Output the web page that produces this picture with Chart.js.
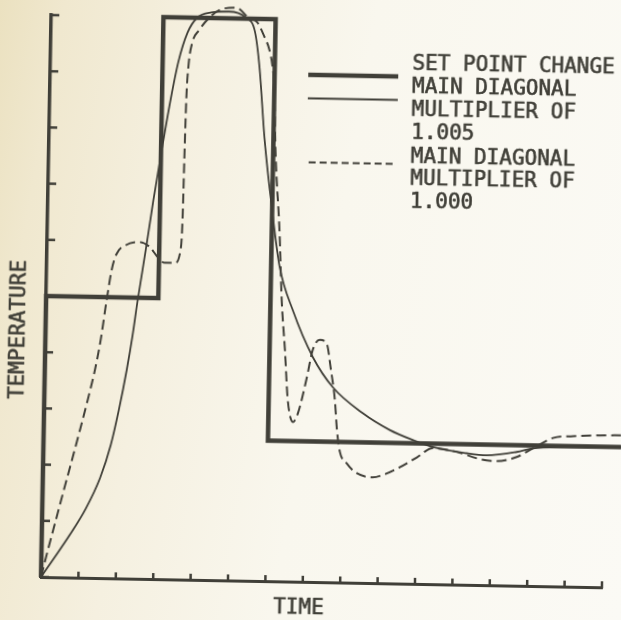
<!DOCTYPE html>
<html>
<head>
<meta charset="utf-8">
<script src="https://cdn.jsdelivr.net/npm/chart.js@4.4.1/dist/chart.umd.min.js"></script>
<style>
  html, body { margin: 0; padding: 0; }
  body {
    width: 621px; height: 620px; overflow: hidden;
    background: linear-gradient(100deg, #ebe1c0 0%, #f0e8cf 9%, #f5f0e0 28%, #f9f7ee 52%, #fbfaf5 100%);
  }
  #wrap {
    width: 621px; height: 620px;
    transform: rotate(1.05deg);
    transform-origin: 41px 577px;
  }
</style>
</head>
<body>
<div id="wrap"><canvas id="chart" width="621" height="620"></canvas></div>
<script>
// values (time units 0..15, temperature units 0..10)
const setPointX = [0, 0, 3, 3, 6, 6, 15.45];
const setPointY = [0, 5, 5, 10, 10, 2.5, 2.5];

const diag1005X = [0, 0.36, 0.75, 1.17, 1.53, 1.80, 2.0, 2.19, 2.33, 2.45,
  2.64, 2.82, 3.04, 3.23, 3.42, 3.65, 3.90, 4.28, 4.75, 5.2,
  5.45, 5.59, 5.76, 6.01, 6.23, 6.6, 7.16, 7.71, 8.52, 9.25,
  9.87, 10.41, 11.33, 11.86, 12.66, 13.09, 14.0, 15.45];
const diag1005Y = [0, 0.36, 0.76, 1.24, 1.78, 2.37, 3.0, 3.71, 4.33, 4.96,
  5.85, 6.74, 7.73, 8.53, 9.21, 9.73, 10.0, 10.1, 10.12, 10.02,
  9.78, 9.15, 7.88, 6.55, 5.59, 4.83, 4.0, 3.47, 3.02, 2.73,
  2.56, 2.44, 2.34, 2.31, 2.38, 2.45, 2.48, 2.5];

const diag1000X = [0, 0.17, 0.37, 0.57, 0.77, 0.97, 1.16, 1.34, 1.48, 1.62,
  1.74, 1.86, 2.10, 2.47, 2.74, 2.96, 3.15, 3.42, 3.57, 3.61,
  3.63, 3.65, 3.69, 3.78, 3.96, 4.22, 4.54, 4.94, 5.29, 5.51,
  5.71, 5.85, 5.94, 6.0, 6.06, 6.21, 6.30, 6.41, 6.51, 6.66,
  6.79, 7.01, 7.15, 7.34, 7.52, 7.65, 7.77, 7.84, 7.93, 8.12,
  8.34, 8.82, 9.14, 9.54, 9.99, 10.41, 11.06, 11.68, 12.13, 12.66,
  13.09, 13.62, 14.15, 14.87, 15.45];
const diag1000Y = [0, 0.48, 1.02, 1.56, 2.09, 2.63, 3.16, 3.70, 4.24, 4.95,
  5.49, 5.77, 5.93, 5.99, 5.91, 5.73, 5.63, 5.63, 5.86, 6.45,
  7.64, 8.53, 9.12, 9.55, 9.78, 10.0, 10.16, 10.19, 10.01, 9.94,
  9.68, 9.45, 9.15, 8.74, 7.67, 6.20, 5.0, 4.12, 3.23, 2.84,
  3.0, 3.64, 4.12, 4.31, 4.25, 3.78, 3.24, 2.71, 2.32, 2.12,
  1.97, 1.88, 1.94, 2.07, 2.25, 2.42, 2.36, 2.24, 2.21, 2.29,
  2.45, 2.64, 2.68, 2.70, 2.71];

const legendLines = [
  ['SET POINT CHANGE'],
  ['MAIN DIAGONAL', 'MULTIPLIER OF', '1.005'],
  ['MAIN DIAGONAL', 'MULTIPLIER OF', '1.000']
];
const xTitle = 'TIME';
const yTitle = 'TEMPERATURE';

const ink = '#403f38';
const font = '21px "DejaVu Sans Mono", monospace';

function toPoints(xs, ys) {
  return xs.map((x, i) => ({ x: x, y: ys[i] }));
}

// scanned print looks heavier than the plain font, so fill + thin stroke
function inkText(ctx, s, x, y) {
  ctx.fillText(s, x, y);
  ctx.strokeText(s, x, y);
}

// inward tick marks, axis titles and the hand-made legend
const paperPlugin = {
  id: 'paper',
  afterDraw(chart) {
    const ctx = chart.ctx;
    const xs = chart.scales.x, ys = chart.scales.y;
    const area = chart.chartArea;
    ctx.save();
    ctx.strokeStyle = ink;
    ctx.lineWidth = 2.5;
    ys.ticks.forEach(t => {
      const py = ys.getPixelForValue(t.value);
      ctx.beginPath();
      ctx.moveTo(area.left, py);
      ctx.lineTo(area.left + 8, py);
      ctx.stroke();
    });
    xs.ticks.forEach(t => {
      const px = xs.getPixelForValue(t.value);
      ctx.beginPath();
      ctx.moveTo(px, area.bottom + 1);
      ctx.lineTo(px, area.bottom - 6);
      ctx.stroke();
    });

    ctx.fillStyle = ink;
    ctx.font = font;
    ctx.lineWidth = 0.6;
    ctx.textBaseline = 'middle';
    ctx.textAlign = 'center';
    inkText(ctx, xTitle, 299, 604);
    ctx.save();
    ctx.translate(15, 330);
    ctx.rotate(-Math.PI / 2);
    inkText(ctx, yTitle, 0, 0);
    ctx.restore();

    // legend
    const textY = [[58], [81, 103.5, 126.5], [151, 173, 196]];
    const sampleY = [70, 93.5, 157.5];
    chart.data.datasets.forEach((ds, i) => {
      ctx.beginPath();
      ctx.lineWidth = ds.borderWidth;
      ctx.setLineDash(i === 2 ? [7, 4] : []);
      ctx.moveTo(i === 2 ? 301 : 299, sampleY[i]);
      ctx.lineTo(i === 2 ? 387 : 389, sampleY[i]);
      ctx.stroke();
      ctx.setLineDash([]);
      ctx.textAlign = 'left';
      ctx.lineWidth = 0.6;
      legendLines[i].forEach((s, j) => inkText(ctx, s, 403, textY[i][j]));
    });
    ctx.restore();
  }
};

new Chart(document.getElementById('chart'), {
  type: 'line',
  data: {
    datasets: [
      {
        label: legendLines[0].join(' '),
        data: toPoints(setPointX, setPointY),
        borderColor: ink,
        borderWidth: 4.5,
        borderJoinStyle: 'miter',
        tension: 0,
        pointRadius: 0,
        clip: false
      },
      {
        label: legendLines[1].join(' '),
        data: toPoints(diag1005X, diag1005Y),
        borderColor: ink,
        borderWidth: 1.8,
        cubicInterpolationMode: 'monotone',
        pointRadius: 0,
        clip: false
      },
      {
        label: legendLines[2].join(' '),
        data: toPoints(diag1000X, diag1000Y),
        borderColor: ink,
        borderWidth: 2,
        borderDash: [10, 5],
        cubicInterpolationMode: 'monotone',
        pointRadius: 0,
        clip: false
      }
    ]
  },
  options: {
    responsive: false,
    devicePixelRatio: 1,
    animation: false,
    layout: { autoPadding: false, padding: { left: 41, right: 19, top: 15, bottom: 43 } },
    plugins: { legend: { display: false }, tooltip: { enabled: false } },
    scales: {
      x: {
        type: 'linear', min: 0, max: 15,
        ticks: { display: false, stepSize: 1 },
        grid: { drawOnChartArea: false, drawTicks: false },
        border: { display: true, color: ink, width: 3 }
      },
      y: {
        type: 'linear', min: 0, max: 10,
        ticks: { display: false, stepSize: 1 },
        grid: { drawOnChartArea: false, drawTicks: false },
        border: { display: true, color: ink, width: 3.5 }
      }
    }
  },
  plugins: [paperPlugin]
});
</script>
</body>
</html>
